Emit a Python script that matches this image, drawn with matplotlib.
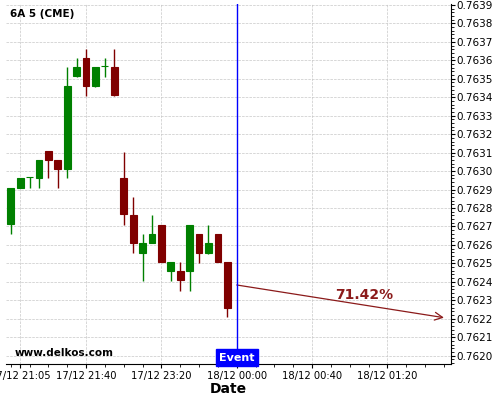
import numpy as np
import matplotlib.pyplot as plt
from matplotlib.ticker import MultipleLocator, FormatStrFormatter

# 5-minute candles, 6A (CME)
opens = np.array([0.762712, 0.762910, 0.762966, 0.762964, 0.763109, 0.763060,
                  0.763013, 0.763517, 0.763613, 0.763461, 0.763568, 0.763564,
                  0.762961, 0.762764, 0.762558, 0.762612, 0.762708, 0.762460,
                  0.762460, 0.762460, 0.762659, 0.762558, 0.762659, 0.762509])
closes = np.array([0.762907, 0.762961, 0.762966, 0.763060, 0.763062, 0.763013,
                   0.763461, 0.763564, 0.763461, 0.763564, 0.763568, 0.763412,
                   0.762766, 0.762612, 0.762612, 0.762659, 0.762509, 0.762509,
                   0.762410, 0.762708, 0.762558, 0.762612, 0.762509, 0.762260])
highs = np.array([0.762907, 0.762961, 0.762966, 0.763060, 0.763109, 0.763060,
                  0.763562, 0.763611, 0.763661, 0.763564, 0.763611, 0.763661,
                  0.763105, 0.762858, 0.762659, 0.762762, 0.762708, 0.762509,
                  0.762509, 0.762708, 0.762659, 0.762708, 0.762659, 0.762509])
lows = np.array([0.762658, 0.762910, 0.762907, 0.762907, 0.762961, 0.762908,
                 0.762961, 0.763511, 0.763408, 0.763454, 0.763511, 0.763408,
                 0.762708, 0.762555, 0.762406, 0.762609, 0.762509, 0.762406,
                 0.762352, 0.762352, 0.762504, 0.762551, 0.762509, 0.762208])

tick_idx = [1, 8, 16, 24, 32, 40]
tick_labels = ['17/12 21:05', '17/12 21:40', '17/12 23:20',
               '18/12 00:00', '18/12 00:40', '18/12 01:20']

event_idx = 24
arrow_start = (24, 0.762383)
arrow_end = (46, 0.762206)
prob_text = '71.42%'

fig = plt.figure(figsize=(5, 4), dpi=100)
ax = fig.add_axes([0.012, 0.09, 0.890, 0.90])

x = np.arange(len(opens))
up = closes >= opens
colors = np.where(up, '#008000', '#800000')

ax.vlines(x, lows, highs, colors=colors, linewidth=1, zorder=2)
ax.bar(x, closes - opens, bottom=opens, width=0.72, color=colors,
       edgecolor=colors, linewidth=0.8, zorder=3)

ax.axvline(event_idx, color='blue', linewidth=1, zorder=4)
ax.text(event_idx, 0.761962, 'Event', color='white', fontsize=8, fontweight='bold',
        ha='center', va='bottom', zorder=5,
        bbox=dict(boxstyle='square,pad=0.3', facecolor='blue', edgecolor='blue'))

ax.annotate('', xy=arrow_end, xytext=arrow_start,
            arrowprops=dict(arrowstyle='->', color='#8b1a1a', lw=0.9,
                            mutation_scale=14, shrinkA=0, shrinkB=0))
ax.text(37.5, 0.762330, prob_text, color='#8b1a1a', fontsize=10,
        fontweight='bold', ha='center', va='center')

ax.text(0.01, 0.985, '6A 5 (CME)', transform=ax.transAxes, fontsize=7.5,
        fontweight='bold', va='top')
ax.text(0.02, 0.018, 'www.delkos.com', transform=ax.transAxes, fontsize=7.5,
        fontweight='bold', va='bottom')

ax.set_xlim(-0.5, 46.75)
ax.set_ylim(0.761955, 0.763905)

ax.set_xticks(tick_idx)
ax.set_xticklabels(tick_labels, fontsize=7.2)
ax.xaxis.set_minor_locator(MultipleLocator(2))

ax.yaxis.tick_right()
ax.yaxis.set_major_locator(MultipleLocator(0.0001))
ax.yaxis.set_minor_locator(MultipleLocator(0.00002))
ax.yaxis.set_major_formatter(FormatStrFormatter('%.4f'))
ax.tick_params(axis='y', labelsize=7.5, length=3, pad=1)
ax.tick_params(axis='y', which='minor', length=2)
ax.tick_params(axis='x', length=3, pad=2)

ax.spines['left'].set_visible(False)
ax.spines['top'].set_visible(False)

ax.grid(True, which='major', linestyle='--', linewidth=0.5, color='#c8c8c8')
ax.set_axisbelow(True)
ax.set_xlabel('Date', fontsize=10, fontweight='bold', labelpad=1)

fig.savefig('out.png', dpi=100)
